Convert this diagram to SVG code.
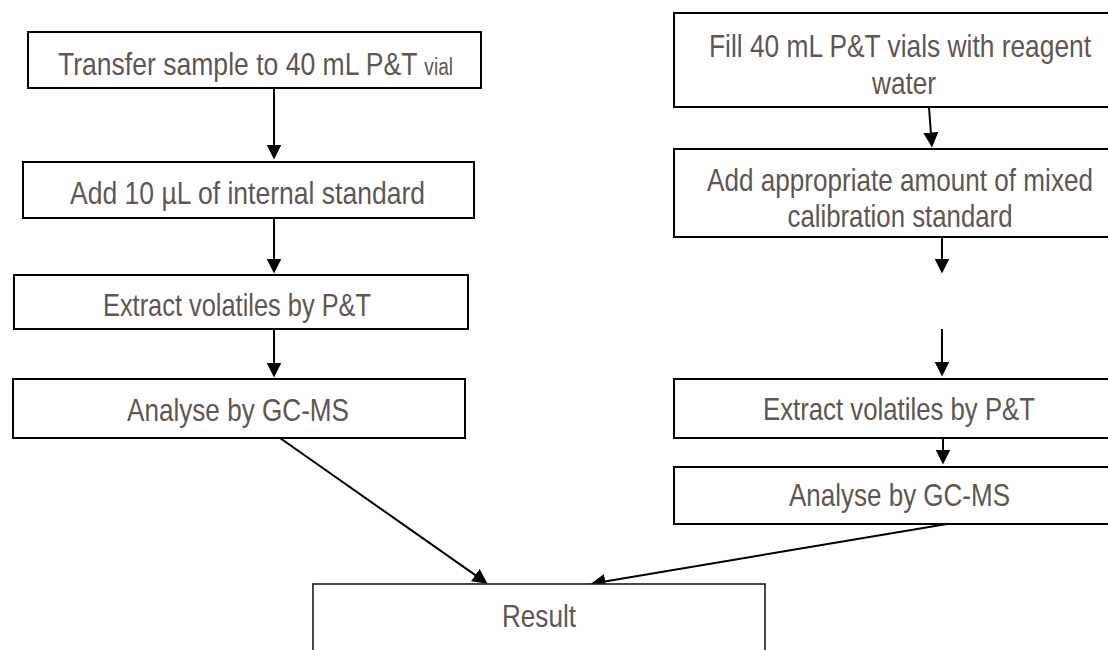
<svg xmlns="http://www.w3.org/2000/svg" width="1108" height="650" viewBox="0 0 1108 650">
<defs>
<style>
.box{fill:#fff;stroke:#000;stroke-width:2}
.res{fill:#fff;stroke:#1a1a1a;stroke-width:1.6}
.t{font-family:"Liberation Sans Narrow","Liberation Sans",Arial,sans-serif;font-size:32px;fill:#5f574f;text-anchor:middle}
.c{stroke:#000;stroke-width:2;fill:none;marker-end:url(#ah)}
</style>
<marker id="ah" markerUnits="userSpaceOnUse" markerWidth="16" markerHeight="15" refX="0.5" refY="7.5" orient="auto">
<path d="M0,0 L15,7.5 L0,15 z" fill="#000"/>
</marker>
</defs>
<rect width="1108" height="650" fill="#fff"/>
<g id="connectors">
<line class="c" x1="274" y1="88" x2="274" y2="145"/>
<line class="c" x1="274" y1="218" x2="274" y2="259"/>
<line class="c" x1="274" y1="329" x2="274" y2="363"/>
<line class="c" x1="280" y1="438" x2="475.7" y2="575.4"/>
<line class="c" x1="929" y1="107" x2="930.9" y2="133"/>
<line class="c" x1="942" y1="237" x2="942" y2="259"/>
<line class="c" x1="942" y1="329" x2="942" y2="362"/>
<line class="c" x1="943" y1="438" x2="943" y2="450"/>
<line class="c" x1="947" y1="524" x2="604.8" y2="581.5"/>
</g>
<g id="n-transfer">
<rect class="box" x="28" y="32" width="453" height="56"/>
<text class="t" x="255.5" y="75" textLength="395" lengthAdjust="spacingAndGlyphs">Transfer sample to 40 mL P&amp;T <tspan font-size="23">vial</tspan></text>
</g>
<g id="n-add-is">
<rect class="box" x="23" y="162" width="451" height="56"/>
<text class="t" x="247.5" y="204" textLength="355" lengthAdjust="spacingAndGlyphs">Add 10 µL of internal standard</text>
</g>
<g id="n-extract-left">
<rect class="box" x="14" y="275" width="454" height="54"/>
<text class="t" x="237" y="316" textLength="268" lengthAdjust="spacingAndGlyphs">Extract volatiles by P&amp;T</text>
</g>
<g id="n-analyse-left">
<rect class="box" x="13" y="379" width="452" height="59"/>
<text class="t" x="238" y="421" textLength="222" lengthAdjust="spacingAndGlyphs">Analyse by GC-MS</text>
</g>
<g id="n-fill">
<rect class="box" x="674" y="13" width="458" height="94"/>
<text class="t" x="900" y="57" textLength="382" lengthAdjust="spacingAndGlyphs">Fill 40 mL P&amp;T vials with reagent</text>
<text class="t" x="904" y="94" textLength="64" lengthAdjust="spacingAndGlyphs">water</text>
</g>
<g id="n-add-cal">
<rect class="box" x="674" y="149" width="452" height="88"/>
<text class="t" x="900" y="191" textLength="386" lengthAdjust="spacingAndGlyphs">Add appropriate amount of mixed</text>
<text class="t" x="900" y="227" textLength="225" lengthAdjust="spacingAndGlyphs">calibration standard</text>
</g>
<g id="n-extract-right">
<rect class="box" x="674" y="379" width="452" height="59"/>
<text class="t" x="899" y="420" textLength="272" lengthAdjust="spacingAndGlyphs">Extract volatiles by P&amp;T</text>
</g>
<g id="n-analyse-right">
<rect class="box" x="674" y="467" width="452" height="57"/>
<text class="t" x="899.5" y="506" textLength="221" lengthAdjust="spacingAndGlyphs">Analyse by GC-MS</text>
</g>
<g id="n-result">
<rect class="res" x="313" y="584" width="452" height="90"/>
<text class="t" x="539" y="627" textLength="74" lengthAdjust="spacingAndGlyphs">Result</text>
</g>
</svg>
